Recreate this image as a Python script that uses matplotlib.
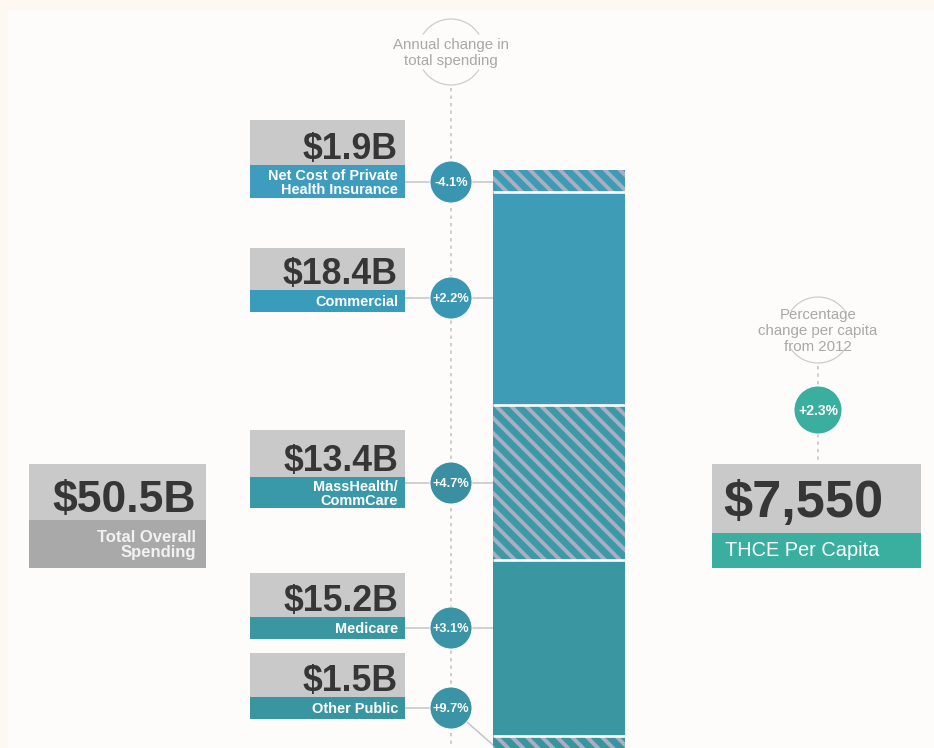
import numpy as np
import matplotlib
matplotlib.use("Agg")
import matplotlib.pyplot as plt
from matplotlib import font_manager
from matplotlib.patches import Rectangle, Circle, Arc
from matplotlib.collections import LineCollection

# data
categories = ["Net Cost of Private\nHealth Insurance", "Commercial",
              "MassHealth/\nCommCare", "Medicare", "Other Public"]
spending_b = [1.9, 18.4, 13.4, 15.2, 1.5]
annual_change = ["-4.1%", "+2.2%", "+4.7%", "+3.1%", "+9.7%"]
hatched = [True, False, True, False, True]
total_b = 50.5
per_capita = "$7,550"
per_capita_change = "+2.3%"

# colours
bg = "#fdfcfa"
frame_bg = "#fdf8f1"
gray_box = "#c9c9c9"
gray_dark = "#a9a9a9"
text_dark = "#363636"
line_gray = "#c6c6c6"
note_gray = "#a8a8a8"
hatch_col = "#a9aec2"
seg_colors = ["#3d9bb6", "#3f9cb6", "#3b99a8", "#3a97a2", "#3a949e"]
strip_colors = ["#3e9dbf", "#3a9cbb", "#3a99a8", "#3a97a2", "#3996a0"]
circle_colors = ["#3a95b0", "#3a97b4", "#3a90a2", "#3a94a6", "#3a94a6"]
thce_teal = "#3aae9f"

plt.rcParams["font.family"] = ["Liberation Sans", "DejaVu Sans"]
names = {f.name for f in font_manager.fontManager.ttflist}
if "Liberation Sans Narrow" in names:
    big_font, big_scale = "Liberation Sans Narrow", 1.0
else:
    big_font, big_scale = "Liberation Sans", 0.89

W, H, DPI = 934, 748, 80
fig = plt.figure(figsize=(W / DPI, H / DPI), dpi=DPI, facecolor=frame_bg)
ax = fig.add_axes([0, 0, 1, 1])
ax.set_xlim(0, W)
ax.set_ylim(H, 0)
ax.axis("off")
ax.add_patch(Rectangle((8, 10), W - 8, H - 10, facecolor=bg, edgecolor="none", zorder=0))

# stacked bar, in billions
bar_left, bar_right, bar_top = 493, 625, 170
px_per_b = 11.58
bax = fig.add_axes([bar_left / W, 0, (bar_right - bar_left) / W, (H - bar_top) / H])
bax.axis("off")
bottoms = np.concatenate([[0], np.cumsum(spending_b)[:-1]])
bars = bax.bar(0, spending_b, width=1, bottom=bottoms, color=seg_colors, edgecolor="none")
# diagonal stripes on the hatched segments
stripes = [[(bar_left - 20, bar_left - 20 + c), (bar_right + 20, bar_right + 20 + c)]
           for c in np.arange(bar_top - bar_right - 40, H - bar_left + 40, 15)]
for rect, h in zip(bars, hatched):
    if h:
        lc = LineCollection(stripes, colors=hatch_col, linewidths=3.5, transform=ax.transData)
        bax.add_collection(lc, autolim=False)
        lc.set_clip_path(rect)
bax.hlines(bottoms[1:], -0.5, 0.5, color=bg, linewidth=2.4)
bax.set_xlim(-0.5, 0.5)
bax.set_ylim((H - bar_top) / px_per_b, 0)

# column of labels on the left
box_x0, box_x1 = 250, 405
box_tops = [120, 248, 430, 573, 653]
gray_h = [45, 42, 47, 44, 44]
strip_h = [33, 22, 31, 22, 22]
circle_y = [182, 298, 483, 628, 708]
cx, r = 451, 21

# dotted guide
ax.plot([cx, cx], [88, H], color=line_gray, lw=1.5, ls=(0, (2, 2.5)), zorder=1)
ax.text(cx, 45, "Annual change in", ha="center", va="center", fontsize=13.5, color=note_gray)
ax.text(cx, 61, "total spending", ha="center", va="center", fontsize=13.5, color=note_gray)
ax.add_patch(Arc((cx, 52), 66, 66, theta1=212, theta2=328, color="#cbcbcb", lw=1.1))
ax.add_patch(Arc((cx, 52), 66, 66, theta1=32, theta2=148, color="#cbcbcb", lw=1.1))

for i, (cat, v, chg) in enumerate(zip(categories, spending_b, annual_change)):
    top = box_tops[i]
    ax.add_patch(Rectangle((box_x0, top), box_x1 - box_x0, gray_h[i],
                           facecolor=gray_box, edgecolor="none", zorder=2))
    ax.add_patch(Rectangle((box_x0, top + gray_h[i]), box_x1 - box_x0, strip_h[i],
                           facecolor=strip_colors[i], edgecolor="none", zorder=2))
    ax.text(box_x1 - 7, top + gray_h[i] - 6, f"${v}B", ha="right", va="baseline",
            fontsize=36 * big_scale, fontweight="bold", family=big_font, color=text_dark,
            zorder=3)
    ax.text(box_x1 - 7, top + gray_h[i] + strip_h[i] / 2 + 1, cat, ha="right", va="center",
            fontsize=13, fontweight="bold", color="white", linespacing=1.0, zorder=3)

    cy = circle_y[i]
    ax.plot([box_x1, cx], [cy, cy], color=line_gray, lw=1.4, zorder=1)
    if i < len(categories) - 1:
        ax.plot([cx, bar_left], [cy, cy], color=line_gray, lw=1.4, zorder=1)
    else:
        # last one runs to the middle of its segment
        pt = bax.transData.transform((-0.5, bottoms[i] + v / 2))
        px, py = ax.transData.inverted().transform(pt)
        ax.plot([cx, px], [cy, py], color=line_gray, lw=1.4, zorder=1)
    ax.add_patch(Circle((cx, cy), r, facecolor=circle_colors[i], edgecolor="white",
                        lw=0.8, zorder=3))
    ax.text(cx, cy + 1, chg, ha="center", va="center", fontsize=11.5, fontweight="bold",
            family=big_font, color="white", zorder=4)

# total box
ax.add_patch(Rectangle((29, 464), 177, 56, facecolor=gray_box, edgecolor="none", zorder=2))
ax.add_patch(Rectangle((29, 520), 177, 48, facecolor=gray_dark, edgecolor="none", zorder=2))
ax.text(196, 512, f"${total_b}B", ha="right", va="baseline", fontsize=45 * big_scale,
        fontweight="bold", family=big_font, color=text_dark, zorder=3)
ax.text(196, 545, "Total Overall\nSpending", ha="right", va="center", fontsize=15,
        fontweight="bold", color="#f2f2f2", linespacing=1.0, zorder=3)

# per capita box
rx = 818
ax.text(rx, 315, "Percentage", ha="center", va="center", fontsize=13.5, color=note_gray)
ax.text(rx, 331, "change per capita", ha="center", va="center", fontsize=13.5, color=note_gray)
ax.text(rx, 347, "from 2012", ha="center", va="center", fontsize=13.5, color=note_gray)
ax.add_patch(Arc((rx, 330), 66, 66, theta1=215, theta2=325, color="#cbcbcb", lw=1.1))
ax.add_patch(Arc((rx, 330), 66, 66, theta1=35, theta2=145, color="#cbcbcb", lw=1.1))
ax.plot([rx, rx], [366, 388], color=line_gray, lw=1.5, ls=(0, (2, 2.5)), zorder=1)
ax.plot([rx, rx], [434, 463], color=line_gray, lw=1.5, ls=(0, (2, 2.5)), zorder=1)
ax.add_patch(Circle((rx, 410), 24, facecolor=thce_teal, edgecolor="white", lw=0.8, zorder=3))
ax.text(rx, 411, per_capita_change, ha="center", va="center", fontsize=12.5,
        fontweight="bold", family=big_font, color="white", zorder=4)

ax.add_patch(Rectangle((712, 464), 209, 69, facecolor=gray_box, edgecolor="none", zorder=2))
ax.add_patch(Rectangle((712, 533), 209, 35, facecolor=thce_teal, edgecolor="none", zorder=2))
ax.text(723, 517, per_capita, ha="left", va="baseline", fontsize=53 * big_scale,
        fontweight="bold", family=big_font, color=text_dark, zorder=3)
ax.text(725, 551, "THCE Per Capita", ha="left", va="center", fontsize=18,
        color="white", zorder=3)

fig.savefig("out.png", dpi=DPI, facecolor=fig.get_facecolor())
